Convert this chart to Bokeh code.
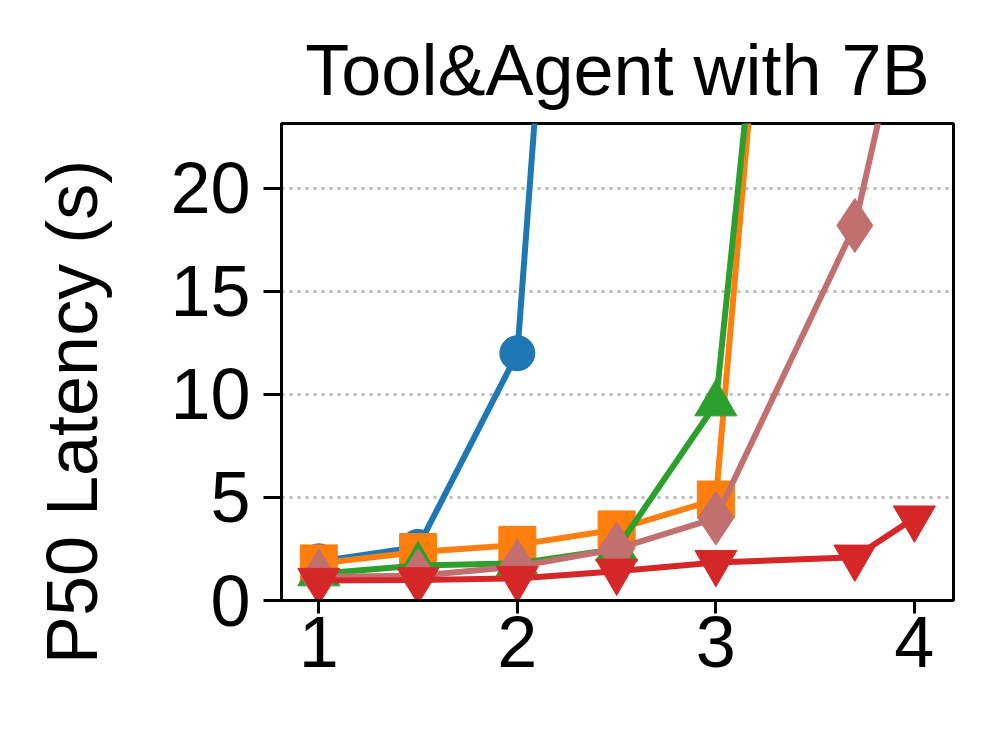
from bokeh.plotting import figure
from bokeh.models import Range1d, FixedTicker
from bokeh.embed import file_html
from bokeh.resources import INLINE

# ---- data ----
x_blue = [1, 1.5, 2, 2.5]
y_blue = [1.9, 2.6, 12.0, 77.0]
x_orange = [1, 1.5, 2, 2.5, 3, 3.7]
y_orange = [1.8, 2.35, 2.7, 3.45, 4.9, 83.0]
x_green = [1, 1.5, 2, 2.5, 3, 3.7]
y_green = [1.3, 1.7, 1.8, 2.5, 9.55, 75.0]
x_pink = [1, 1.5, 2, 2.5, 3, 3.7, 4]
y_pink = [1.15, 1.2, 1.65, 2.5, 4.0, 18.2, 31.0]
x_red = [1, 1.5, 2, 2.5, 3, 3.7, 4]
y_red = [0.97, 1.0, 1.07, 1.42, 1.84, 2.1, 4.0]

x_ticks = [1, 2, 3, 4]
y_ticks = [0, 5, 10, 15, 20]
title_text = "Tool&Agent with 7B"
ylabel_text = "P50 Latency (s)"

FONT = "Liberation Sans"
FS = "72px"

X0, X1 = 0.812, 4.197
Y0, Y1 = 0.0, 23.15

p = figure(width=998, height=735, output_backend="svg", toolbar_location=None,
           x_range=Range1d(X0, X1), y_range=Range1d(Y0, Y1),
           min_border_left=281, min_border_right=45, min_border_top=123,
           min_border_bottom=135)

p.title.text = title_text
p.title.text_font = FONT
p.title.text_font_size = FS
p.title.text_font_style = "normal"
p.title.text_color = "black"
p.title.align = "center"
p.title.standoff = 28

p.outline_line_color = "black"
p.outline_line_width = 3
p.outline_line_alpha = 1.0

p.xgrid.visible = False
p.ygrid.ticker = FixedTicker(ticks=[5, 10, 15, 20])
p.ygrid.grid_line_color = "#bdbdbd"
p.ygrid.grid_line_width = 3
p.ygrid.grid_line_dash = "3 5"

for ax in (p.xaxis[0], p.yaxis[0]):
    ax.axis_line_width = 3
    ax.axis_line_color = "black"
    ax.major_tick_line_width = 3
    ax.major_tick_line_color = "black"
    ax.major_tick_in = 0
    ax.minor_tick_line_color = None
    ax.major_label_text_font = FONT
    ax.major_label_text_font_size = FS
    ax.major_label_text_color = "black"

p.xaxis[0].ticker = FixedTicker(ticks=x_ticks)
p.yaxis[0].ticker = FixedTicker(ticks=y_ticks)
p.xaxis[0].major_tick_out = 13
p.yaxis[0].major_tick_out = 18
p.xaxis[0].major_label_standoff = 3
p.yaxis[0].major_label_standoff = 13

# y label on the axis; trailing no-break spaces move the visible text below the frame centre
yax = p.yaxis[0]
yax.axis_label = ylabel_text + "\u00a0" * 5
yax.axis_label_text_font = FONT
yax.axis_label_text_font_size = FS
yax.axis_label_text_font_style = "normal"
yax.axis_label_text_color = "black"
yax.axis_label_standoff = 55

LW = 6
series = [
    (x_blue, y_blue, "#1f77b4", "circle", 35),
    (x_orange, y_orange, "#ff7f0e", "square", 37),
    (x_green, y_green, "#2ca02c", "triangle", 42),
    (x_pink, y_pink, "#c26f6f", "diamond", 54),
    (x_red, y_red, "#d62728", "inverted_triangle", 42),
]
for xs, ys, col, mk, sz in series:
    p.line(xs, ys, line_color=col, line_width=LW)
    p.scatter(xs, ys, marker=mk, size=sz, fill_color=col, line_color=col, line_width=1)

open("out.html", "w").write(file_html(p, INLINE))
